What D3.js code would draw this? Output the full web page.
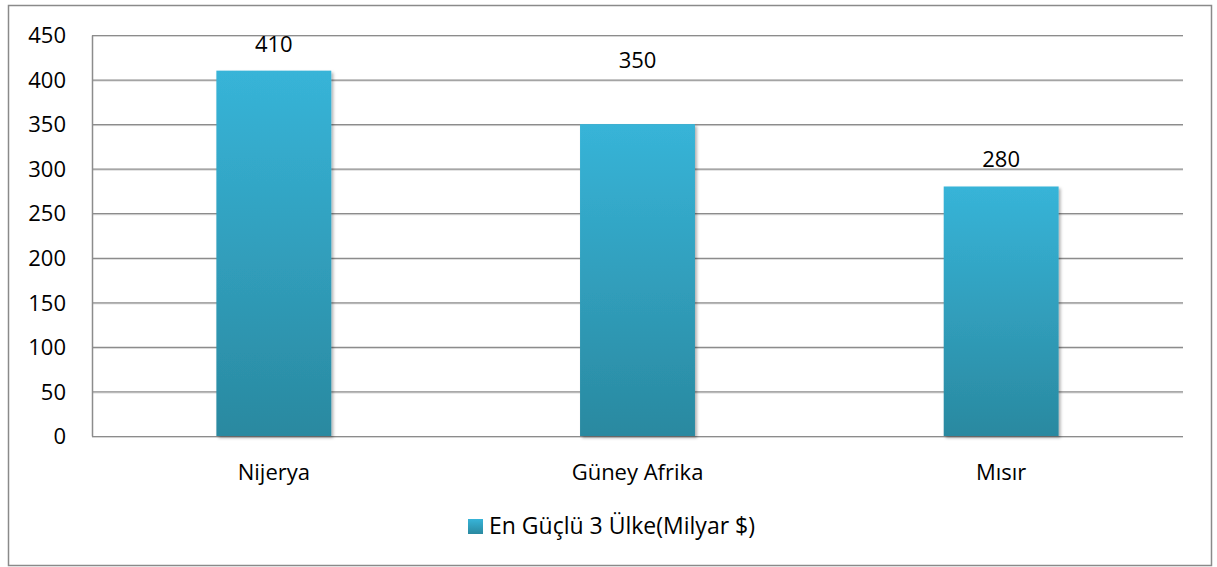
<!DOCTYPE html>
<html>
<head>
<meta charset="utf-8">
<script src="https://cdn.jsdelivr.net/npm/d3@7"></script>
<style>
  body { margin: 0; background: #fff; }
  text { font-family: "Open Sans", "Noto Sans", sans-serif; fill: #000; }
</style>
</head>
<body>
<script>
var width = 1217,
  height = 567;

// data
var countries = ["Nijerya", "Güney Afrika", "Mısır"];
var values = [410, 350, 280];
var yTicks = [0, 50, 100, 150, 200, 250, 300, 350, 400, 450];
var seriesName = "En Güçlü 3 Ülke(Milyar $)";
// how far each value label sits above its bar (as in the original)
var labelLift = [19, 56, 19];

var plot = { left: 92, right: 1183, top: 35, bottom: 436 };

var svg = d3.select("body").append("svg")
  .attr("width", width)
  .attr("height", height);

var defs = svg.append("defs");
var grad = defs.append("linearGradient")
  .attr("id", "barGrad")
  .attr("x1", 0).attr("y1", 0).attr("x2", 0).attr("y2", 1);
grad.append("stop").attr("offset", "0%").attr("stop-color", "#37b4d8");
grad.append("stop").attr("offset", "100%").attr("stop-color", "#2a89a0");

var shadow = defs.append("filter").attr("id", "shadow")
  .attr("x", "-10%").attr("y", "-10%").attr("width", "130%").attr("height", "130%");
shadow.append("feDropShadow")
  .attr("dx", 2).attr("dy", 2).attr("stdDeviation", 1.5)
  .attr("flood-color", "#000").attr("flood-opacity", 0.3);

// outer border
svg.append("rect")
  .attr("x", 8.5).attr("y", 5.5)
  .attr("width", 1203).attr("height", 560)
  .attr("fill", "#fff")
  .attr("stroke", "#8a8a8a")
  .attr("stroke-width", 1.5);

// scales
var x = d3.scaleBand()
  .domain(countries)
  .range([plot.left, plot.right]);

var y = d3.scaleLinear()
  .domain([0, 450])
  .range([plot.bottom, plot.top]);

var barW = x.bandwidth() * 0.316;

// gridlines
var grid = svg.append("g");
grid.selectAll("line.shade")
  .data(yTicks)
  .enter().append("line")
  .attr("class", "shade")
  .attr("x1", plot.left).attr("x2", plot.right)
  .attr("y1", function (d) { return y(d) + 1.5; })
  .attr("y2", function (d) { return y(d) + 1.5; })
  .attr("stroke", "#d6d6d6")
  .attr("stroke-width", 1);
grid.selectAll("line.main")
  .data(yTicks)
  .enter().append("line")
  .attr("class", "main")
  .attr("x1", plot.left).attr("x2", plot.right)
  .attr("y1", function (d) { return y(d) + 0.5; })
  .attr("y2", function (d) { return y(d) + 0.5; })
  .attr("stroke", "#8c8c8c")
  .attr("stroke-width", 1.2);

// y axis
var yAxis = d3.axisLeft(y)
  .tickValues(yTicks)
  .tickSize(0)
  .tickPadding(26);
var gy = svg.append("g")
  .attr("transform", "translate(" + plot.left + ",0)")
  .call(yAxis);
gy.select(".domain")
  .attr("stroke", "#8c8c8c")
  .attr("stroke-width", 1.5);
gy.selectAll("text")
  .style("font-size", "22px")
  .attr("dy", "0.35em");

// bars
svg.append("g")
  .selectAll("rect")
  .data(values)
  .enter().append("rect")
  .attr("x", function (d, i) { return x(countries[i]) + (x.bandwidth() - barW) / 2; })
  .attr("y", function (d) { return y(d); })
  .attr("width", barW)
  .attr("height", function (d) { return y(0) - y(d); })
  .attr("fill", "url(#barGrad)")
  .attr("filter", "url(#shadow)");

// value labels
svg.append("g")
  .selectAll("text")
  .data(values)
  .enter().append("text")
  .attr("x", function (d, i) { return x(countries[i]) + x.bandwidth() / 2; })
  .attr("y", function (d, i) { return y(d) - labelLift[i]; })
  .attr("text-anchor", "middle")
  .style("font-size", "22px")
  .text(function (d) { return d; });

// x axis labels
var xAxis = d3.axisBottom(x).tickSize(0).tickPadding(28);
var gx = svg.append("g")
  .attr("transform", "translate(0," + plot.bottom + ")")
  .call(xAxis);
gx.select(".domain").remove();
gx.selectAll("text")
  .style("font-size", "22px");

// legend
var legend = svg.append("g").attr("transform", "translate(468,519)");
legend.append("rect")
  .attr("width", 15).attr("height", 15)
  .attr("fill", "url(#barGrad)");
legend.append("text")
  .attr("x", 21).attr("y", 15)
  .style("font-size", "23px")
  .text(seriesName);
</script>
</body>
</html>
